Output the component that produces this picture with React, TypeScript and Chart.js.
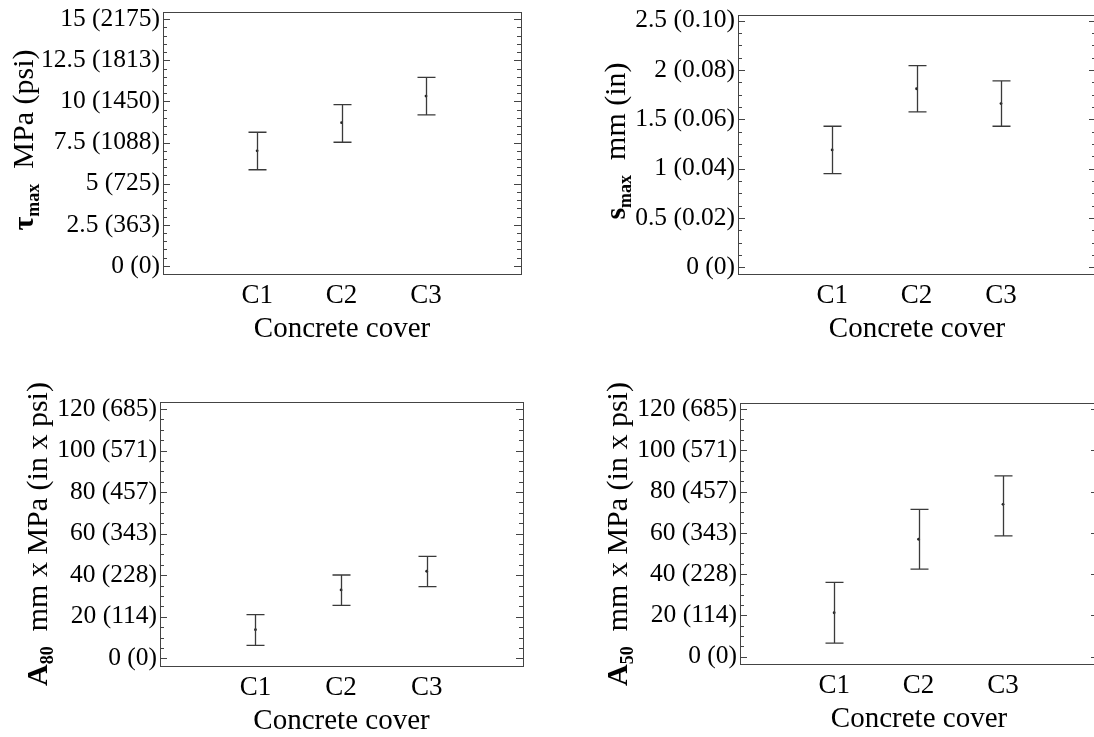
import React, { useEffect, useRef } from 'react';
import { Chart, registerables } from 'chart.js';

Chart.register(...registerables);

// ---------------- data ----------------
const CATEGORIES = ['C1', 'C2', 'C3'];

const TAU_MEAN = [7.0, 8.71, 10.33];
const TAU_LOW = [5.85, 7.52, 9.18];
const TAU_HIGH = [8.13, 9.81, 11.47];
const TAU_TICKS = [0, 2.5, 5, 7.5, 10, 12.5, 15];
const TAU_TICK_LABELS = ['0 (0)', '2.5 (363)', '5 (725)', '7.5 (1088)', '10 (1450)', '12.5 (1813)', '15 (2175)'];

const S_MEAN = [1.19, 1.81, 1.66];
const S_LOW = [0.95, 1.575, 1.43];
const S_HIGH = [1.43, 2.045, 1.89];
const S_TICKS = [0, 0.5, 1, 1.5, 2, 2.5];
const S_TICK_LABELS = ['0 (0)', '0.5 (0.02)', '1 (0.04)', '1.5 (0.06)', '2 (0.08)', '2.5 (0.10)'];

const A80_MEAN = [13.8, 32.9, 41.9];
const A80_LOW = [6.25, 25.5, 34.5];
const A80_HIGH = [21.0, 40.1, 49.1];

const A50_MEAN = [21.3, 56.9, 73.8];
const A50_LOW = [6.6, 42.4, 58.5];
const A50_HIGH = [36.0, 71.4, 87.6];

const A_TICKS = [0, 20, 40, 60, 80, 100, 120];
const A_TICK_LABELS = ['0 (0)', '20 (114)', '40 (228)', '60 (343)', '80 (457)', '100 (571)', '120 (685)'];

const X_TITLE = 'Concrete cover';

// ---------------- layout / style ----------------
const FONT = '"Liberation Serif", "Times New Roman", serif';
const CW = 1110;
const CH = 760;
const YW = 120;
const XH = 73;
const X_MIN = -0.115;
const X_MAX = 4.125;

type Seg = { text: string; bold?: boolean; sub?: boolean };

const PANELS = [
  {
    mean: TAU_MEAN, low: TAU_LOW, high: TAU_HIGH, ticks: TAU_TICKS, labels: TAU_TICK_LABELS,
    yMin: -0.49, yMax: 15.44, major: 2.5, minor: 0.5,
    area: { left: 163, top: 12, right: 521, bottom: 274 },
    title: [{ text: 'τ', bold: true }, { text: 'max', bold: true, sub: true }, { text: '  MPa (psi)' }] as Seg[],
    tx: 33, ty: 140,
  },
  {
    mean: S_MEAN, low: S_LOW, high: S_HIGH, ticks: S_TICKS, labels: S_TICK_LABELS,
    yMin: -0.068, yMax: 2.561, major: 0.5, minor: 0.125,
    area: { left: 738, top: 14.7, right: 1096, bottom: 274 },
    title: [{ text: 's', bold: true }, { text: 'max', bold: true, sub: true }, { text: '  mm (in)' }] as Seg[],
    tx: 625, ty: 141,
  },
  {
    mean: A80_MEAN, low: A80_LOW, high: A80_HIGH, ticks: A_TICKS, labels: A_TICK_LABELS,
    yMin: -3.56, yMax: 123.37, major: 20, minor: 5,
    area: { left: 160, top: 402, right: 523, bottom: 665.7 },
    title: [{ text: 'A', bold: true }, { text: '80', bold: true, sub: true }, { text: '  mm x MPa (in x psi)' }] as Seg[],
    tx: 47, ty: 534,
  },
  {
    mean: A50_MEAN, low: A50_LOW, high: A50_HIGH, ticks: A_TICKS, labels: A_TICK_LABELS,
    yMin: -3.54, yMax: 123.05, major: 20, minor: 5,
    area: { left: 740, top: 402.7, right: 1098, bottom: 664 },
    title: [{ text: 'A', bold: true }, { text: '50', bold: true, sub: true }, { text: '  mm x MPa (in x psi)' }] as Seg[],
    tx: 627, ty: 534,
  },
];

// ---------------- plugins ----------------
const frameTicksPlugin = {
  id: 'frameTicks',
  afterDraw(chart: any, _args: any, opts: any) {
    const { ctx, chartArea: a } = chart;
    const y = chart.scales.y;
    ctx.save();
    ctx.strokeStyle = '#444';
    ctx.lineWidth = 1;
    const i0 = Math.ceil(y.min / opts.minor - 1e-9);
    for (let i = i0; i * opts.minor <= y.max + 1e-9; i++) {
      const v = i * opts.minor;
      const r = v / opts.major;
      const isMajor = Math.abs(r - Math.round(r)) < 1e-6;
      const len = isMajor ? 7 : 4;
      const py = Math.round(y.getPixelForValue(v)) + 0.5;
      ctx.beginPath();
      ctx.moveTo(a.left, py);
      ctx.lineTo(a.left + len, py);
      ctx.moveTo(a.right, py);
      ctx.lineTo(a.right - len, py);
      ctx.stroke();
    }
    const l = Math.round(a.left) + 0.5;
    const t = Math.round(a.top) + 0.5;
    const rr = Math.round(a.right) + 0.5;
    const b = Math.round(a.bottom) + 0.5;
    ctx.strokeRect(l, t, rr - l, b - t);
    ctx.restore();
  },
};

const errorBarsPlugin = {
  id: 'errorBars',
  afterDatasetsDraw(chart: any, _args: any, opts: any) {
    const { ctx } = chart;
    const x = chart.scales.x;
    const y = chart.scales.y;
    ctx.save();
    ctx.strokeStyle = '#3a3a3a';
    ctx.lineWidth = 1.3;
    (opts.low as number[]).forEach((lo, i) => {
      const px = Math.round(x.getPixelForValue(i + 1)) + 0.5;
      const pl = y.getPixelForValue(lo);
      const ph = y.getPixelForValue(opts.high[i]);
      ctx.beginPath();
      ctx.moveTo(px, pl);
      ctx.lineTo(px, ph);
      ctx.moveTo(px - 9, ph);
      ctx.lineTo(px + 9, ph);
      ctx.moveTo(px - 9, pl);
      ctx.lineTo(px + 9, pl);
      ctx.stroke();
    });
    ctx.restore();
  },
};

const yTitlePlugin = {
  id: 'yTitle',
  afterDraw(chart: any, _args: any, opts: any) {
    const { ctx } = chart;
    const segs: Seg[] = opts.segs;
    const fontOf = (s: Seg) => `${s.bold ? 'bold ' : ''}${s.sub ? 18 : 30}px ${FONT}`;
    ctx.save();
    ctx.translate(opts.x, opts.y);
    ctx.rotate(-Math.PI / 2);
    ctx.fillStyle = '#000';
    ctx.textBaseline = 'alphabetic';
    ctx.textAlign = 'left';
    let total = 0;
    const widths = segs.map((s) => {
      ctx.font = fontOf(s);
      const w = ctx.measureText(s.text).width;
      total += w;
      return w;
    });
    let cx = -total / 2;
    segs.forEach((s, i) => {
      ctx.font = fontOf(s);
      ctx.fillText(s.text, cx, s.sub ? 6 : 0);
      cx += widths[i];
    });
    ctx.restore();
  },
};

function makeConfig(p: (typeof PANELS)[number]): any {
  const points = p.mean.map((m, i) => ({ x: i + 1, y: m }));
  return {
    type: 'scatter',
    data: {
      datasets: [
        {
          data: points,
          pointRadius: 1.4,
          pointBackgroundColor: '#222',
          pointBorderWidth: 0,
          showLine: false,
        },
      ],
    },
    plugins: [frameTicksPlugin, errorBarsPlugin, yTitlePlugin],
    options: {
      responsive: false,
      maintainAspectRatio: false,
      animation: false,
      devicePixelRatio: 1,
      layout: {
        padding: {
          left: p.area.left - YW,
          top: p.area.top,
          right: CW - p.area.right,
          bottom: CH - p.area.bottom - XH,
        },
      },
      plugins: {
        legend: { display: false },
        tooltip: { enabled: false },
        frameTicks: { major: p.major, minor: p.minor },
        errorBars: { low: p.low, high: p.high },
        yTitle: { segs: p.title, x: p.tx, y: p.ty },
      },
      scales: {
        x: {
          type: 'linear',
          min: X_MIN,
          max: X_MAX,
          grid: { display: false, drawTicks: false },
          border: { display: false },
          afterBuildTicks: (s: any) => {
            s.ticks = CATEGORIES.map((_, i) => ({ value: i + 1 }));
          },
          afterFit: (s: any) => {
            s.height = XH;
            s.paddingLeft = 0;
            s.paddingRight = 0;
          },
          ticks: {
            callback: (_v: any, i: number) => CATEGORIES[i],
            padding: 6,
            maxRotation: 0,
            autoSkip: false,
            color: '#000',
            font: { family: FONT, size: 27 },
          },
          title: {
            display: true,
            text: X_TITLE,
            color: '#000',
            padding: 0,
            font: { family: FONT, size: 29 },
          },
        },
        y: {
          type: 'linear',
          min: p.yMin,
          max: p.yMax,
          grid: { display: false, drawTicks: false },
          border: { display: false },
          afterBuildTicks: (s: any) => {
            s.ticks = p.ticks.map((v) => ({ value: v }));
          },
          afterFit: (s: any) => {
            s.width = YW;
            s.paddingTop = 0;
            s.paddingBottom = 0;
          },
          ticks: {
            callback: (_v: any, i: number) => p.labels[i],
            padding: 3,
            color: '#000',
            font: { family: FONT, size: 25.5 },
          },
        },
      },
    },
  };
}

function Panel({ index }: { index: number }) {
  const ref = useRef<HTMLCanvasElement | null>(null);
  useEffect(() => {
    if (!ref.current) return;
    const chart = new Chart(ref.current, makeConfig(PANELS[index]));
    return () => chart.destroy();
  }, [index]);
  return (
    <canvas
      ref={ref}
      width={CW}
      height={CH}
      style={{ position: 'absolute', left: 0, top: 0, width: CW, height: CH }}
    />
  );
}

export default function App() {
  return (
    <div
      style={{
        position: 'fixed',
        left: 0,
        top: 0,
        width: 1094,
        height: 737,
        overflow: 'hidden',
        background: '#fff',
      }}
    >
      {PANELS.map((_, i) => (
        <Panel key={i} index={i} />
      ))}
    </div>
  );
}
